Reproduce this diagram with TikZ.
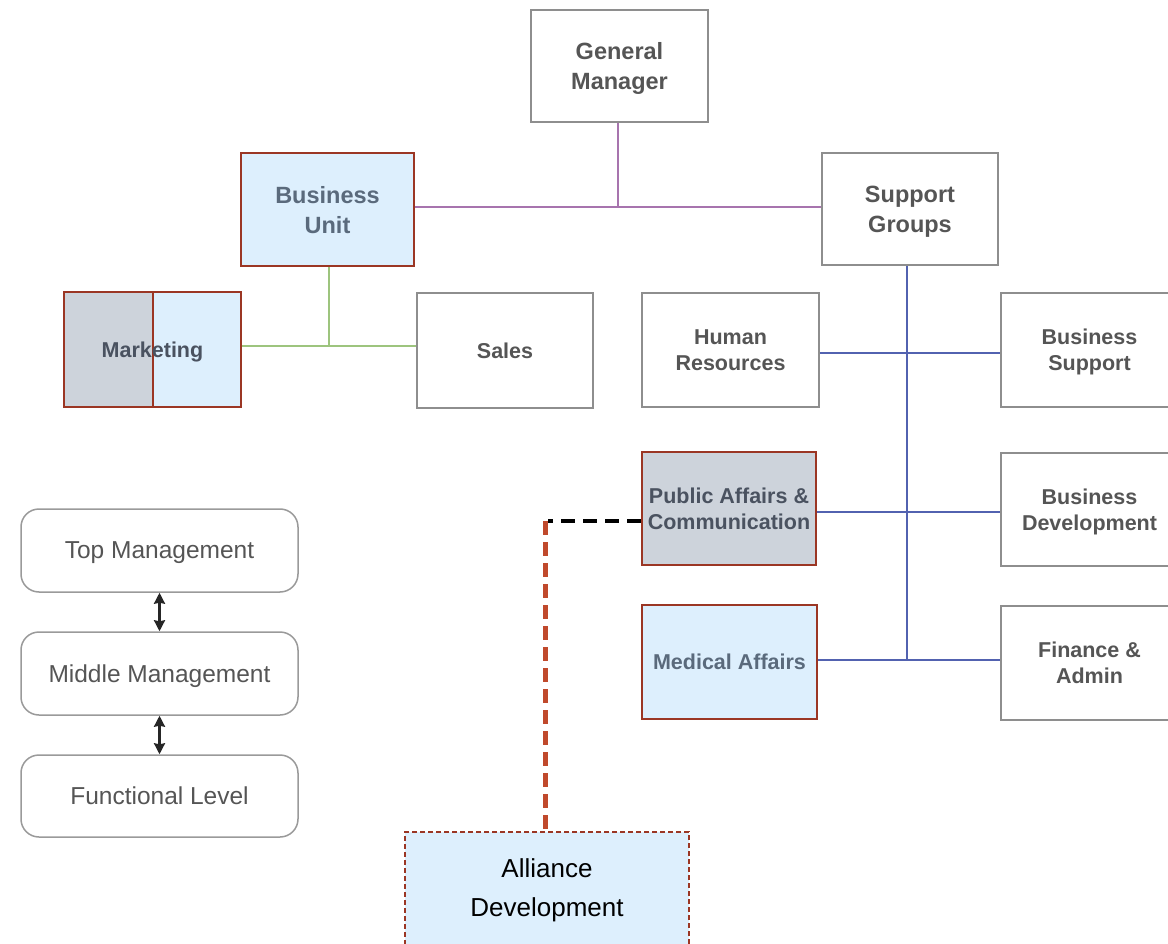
\documentclass[tikz,border=0pt]{standalone}
\usepackage{fontspec}
\setmainfont{Liberation Sans}
\usetikzlibrary{arrows.meta}
\definecolor{lblue}{HTML}{DDEFFD}
\definecolor{lgray}{HTML}{CDD3DB}
\definecolor{bred}{HTML}{9B3624}
\definecolor{dred}{HTML}{C0492C}
\definecolor{bgray}{HTML}{8E8E8E}
\definecolor{rgray}{HTML}{9A9A9A}
\definecolor{tgray}{HTML}{555555}
\definecolor{tblue}{HTML}{5A6A7C}
\definecolor{tdark}{HTML}{4A5260}
\definecolor{lpurple}{HTML}{A774AE}
\definecolor{lgreen}{HTML}{9DC47E}
\definecolor{lnblue}{HTML}{5262B0}
\tikzset{
  box/.style={draw=bgray, line width=2pt, fill=white, align=center, inner sep=0pt,
    text depth=-3pt, text=tgray, font=\bfseries\fontsize{21.5}{26}\selectfont},
  bigbox/.style={box, font=\bfseries\fontsize{23.5}{30}\selectfont},
  hl/.style={draw=bred, line width=2.5pt, fill=lblue, text=tblue},
  hlgray/.style={draw=bred, line width=2.5pt, fill=lgray, text=tdark},
  lvl/.style={draw=rgray, rounded corners=18pt, line width=1.5pt, fill=white,
    text=tgray, inner sep=0pt, text depth=-3pt, minimum width=277pt, font=\fontsize{24.5}{27}\selectfont},
  purpleline/.style={draw=lpurple, line width=2pt},
  greenline/.style={draw=lgreen, line width=2pt},
  blueline/.style={draw=lnblue, line width=2pt},
  blackdash/.style={draw=black, line width=4.5pt, dash pattern=on 14pt off 8pt},
  reddash/.style={draw=dred, line width=5pt, dash pattern=on 14pt off 7pt},
  twoarrow/.style={line width=2.2pt, draw=black!85,
    {Stealth[length=11pt,width=11pt,inset=1pt]}-{Stealth[length=11pt,width=11pt,inset=1pt]}},
  alliance/.style={draw=bred, line width=1.5pt, dash pattern=on 5pt off 3pt, fill=lblue,
    align=center, inner sep=0pt, text=black, font=\fontsize{26}{39}\selectfont},
}
\begin{document}
\begin{tikzpicture}[x=1pt,y=-1pt]
\useasboundingbox (0,0) rectangle (1168,944);
\clip (0,0) rectangle (1168,944);
\fill[white] (0,0) rectangle (1168,944);

% top level
\node[bigbox, minimum width=177pt, minimum height=112pt] (gm) at (619.5,66) {General\\Manager};
\node[bigbox, hl, minimum width=173pt, minimum height=113pt] (bu) at (327.5,209.5) {Business\\Unit};
\node[bigbox, minimum width=176pt, minimum height=112pt] (sg) at (910,209) {Support\\Groups};

% business unit children
\node[box, hl, text=tdark, minimum width=177pt, minimum height=115pt,
  path picture={
    \fill[lgray] (path picture bounding box.north west) rectangle ([xshift=89pt]path picture bounding box.south west);
    \draw[bred, line width=2.5pt] ([xshift=89pt]path picture bounding box.north west) -- ([xshift=89pt]path picture bounding box.south west);
  }] (mk) at (152.5,349.5) {Marketing};
\node[box, minimum width=176pt, minimum height=115pt] (sales) at (505,350.5) {Sales};

% support groups children
\node[box, minimum width=177pt, minimum height=114pt] (hr) at (730.5,350) {Human\\Resources};
\node[box, minimum width=177pt, minimum height=114pt] (bs) at (1089.5,350) {Business\\Support};
\node[box, hlgray, minimum width=174pt, minimum height=113pt] (pa) at (729,508.5) {Public Affairs \&\\Communication};
\node[box, minimum width=177pt, minimum height=113pt] (bd) at (1089.5,509.5) {Business\\Development};
\node[box, hl, minimum width=175pt, minimum height=114pt] (ma) at (729.5,662) {Medical Affairs};
\node[box, minimum width=177pt, minimum height=114pt] (fa) at (1089.5,663) {Finance \&\\Admin};

% levels
\node[lvl, minimum height=83pt] (tm) at (159.5,550.5) {Top Management};
\node[lvl, minimum height=83pt] (mm) at (159.5,673.5) {Middle Management};
\node[lvl, minimum height=82pt] (fl) at (159.5,796) {Functional Level};
\draw[twoarrow] (tm.south) -- (mm.north);
\draw[twoarrow] (mm.south) -- (fl.north);

% alliance
\node[alliance, minimum width=284pt, minimum height=116pt] (ad) at (547,890) {Alliance\\Development};

% connectors
\coordinate (py) at (618,207);
\draw[purpleline] (gm.south -| py) -- (py);
\draw[purpleline] (bu.east |- py) -- (sg.west |- py);
\coordinate (gy) at (329,346);
\draw[greenline] (bu.south -| gy) -- (gy);
\draw[greenline] (mk.east |- gy) -- (sales.west |- gy);
\coordinate (sgb) at ([xshift=-3pt]sg.south);
\coordinate (hy) at (907,353);
\coordinate (py2) at (907,512);
\coordinate (my) at (907,660);
\draw[blueline] (sgb) -- (sgb |- my);
\draw[blueline] (hr.east |- hy) -- (bs.west |- hy);
\draw[blueline] (pa.east |- py2) -- (bd.west |- py2);
\draw[blueline] (ma.east |- my) -- (fa.west |- my);

\coordinate (bend) at (545,521);
\draw[blackdash] ([yshift=-12.5pt]pa.west) -- ([xshift=3pt]bend);
\draw[reddash] (bend) -- (bend |- ad.north);
\end{tikzpicture}
\end{document}
